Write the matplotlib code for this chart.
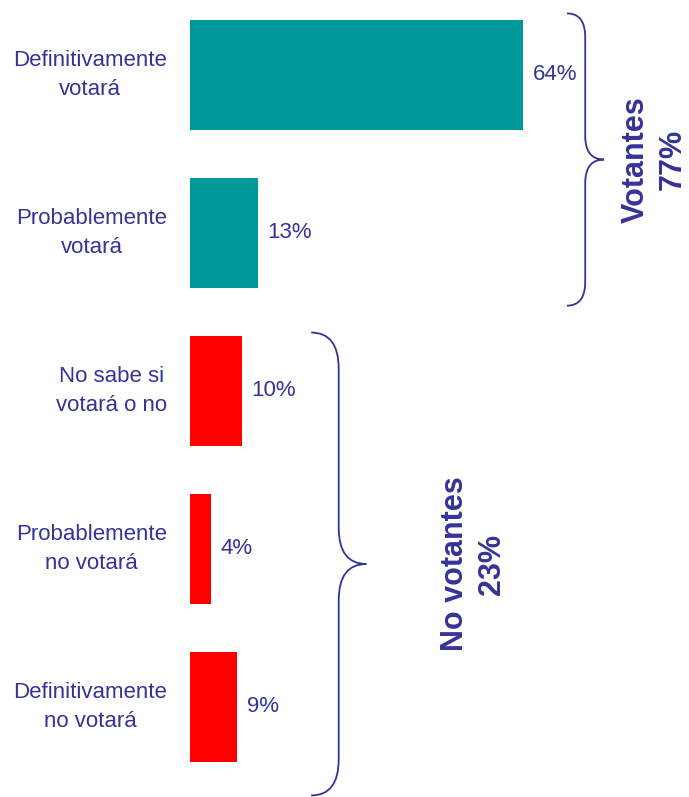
import numpy as np
import matplotlib.pyplot as plt
from matplotlib.path import Path
from matplotlib.patches import PathPatch

plt.rcParams['font.family'] = ['Liberation Sans', 'DejaVu Sans']

# data
categories = ["Definitivamente\nvotará", "Probablemente\nvotará", "No sabe si\nvotará o no",
              "Probablemente\nno votará", "Definitivamente\nno votará"]
values = [64, 13, 10, 4, 9]
groups = ["Votantes", "No votantes"]
group_members = [[0, 1], [2, 3, 4]]

TEXT = '#333399'
bar_colors = ['#009999', '#009999', '#FF0000', '#FF0000', '#FF0000']

W, H = 689, 797
PX = 5.2          # pixels per percent
X0 = 190          # pixel position of the zero line
Y0, DY = 75, 158  # pixel centre of first bar, spacing

fig = plt.figure(figsize=(W / 100, H / 100), dpi=100)
ax = fig.add_axes([0, 0, 1, 1])
ax.set_xlim(-X0 / PX, (W - X0) / PX)
ax.set_ylim((H - Y0) / DY, -Y0 / DY)
ax.axis('off')

ypos = np.arange(len(values))
bars = ax.barh(ypos, values, height=110 / DY, color=bar_colors, edgecolor='none')
ax.bar_label(bars, labels=["%d%%" % v for v in values], padding=7,
             fontsize=16, color=TEXT)

for i, cat in enumerate(categories):
    ax.text(-23 / PX, i, cat, ha='right', va='center', multialignment='center',
            fontsize=16, color=TEXT, linespacing=1.5)


def brace(ax, x0, x1, x2, yt, yb, r):
    ym = (yt + yb) / 2
    verts = [(x0, yt), (x1, yt), (x1, yt + r),
             (x1, ym - r),
             (x1, ym), (x2, ym),
             (x1, ym), (x1, ym + r),
             (x1, yb - r),
             (x1, yb), (x0, yb)]
    codes = [Path.MOVETO, Path.CURVE3, Path.CURVE3,
             Path.LINETO,
             Path.CURVE3, Path.CURVE3,
             Path.CURVE3, Path.CURVE3,
             Path.LINETO,
             Path.CURVE3, Path.CURVE3]
    ax.add_patch(PathPatch(Path(verts, codes), fill=False, edgecolor=TEXT, lw=1.3))


# brace geometry (x in percent units, y in category units)
brace_x = [(72.5, 76.0, 79.6), (23.3, 28.6, 33.9)]
brace_pad = [(0.39, 0.46), (0.37, 0.56)]
brace_r = [0.15, 0.23]
label_x = [89.3, 54.5]

for g, members in enumerate(group_members):
    yt = members[0] - brace_pad[g][0]
    yb = members[-1] + brace_pad[g][1]
    x0, x1, x2 = brace_x[g]
    brace(ax, x0, x1, x2, yt, yb, brace_r[g])
    total = sum(values[m] for m in members)
    ax.text(label_x[g], (yt + yb) / 2, "%s\n%d%%" % (groups[g], total),
            rotation=90, ha='center', va='center', multialignment='center',
            fontsize=22, fontweight='bold', color=TEXT, linespacing=1.3)

fig.savefig("out.png", dpi=100)
